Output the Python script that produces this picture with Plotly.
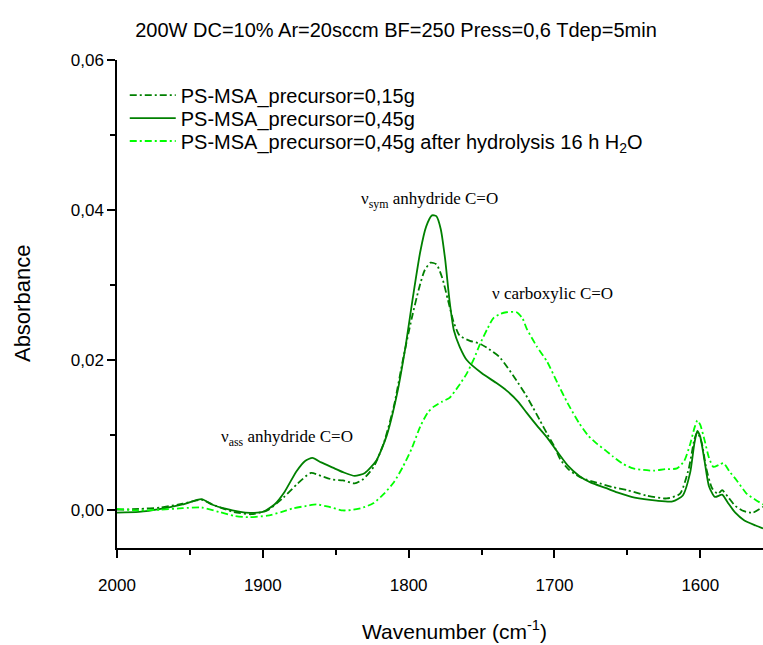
import plotly.graph_objects as go

# ---- data ----
wn_a = [2000, 1985, 1970, 1955, 1942, 1932, 1920, 1908, 1897, 1886, 1876, 1867, 1860, 1852, 1845,
        1837, 1831, 1824, 1817, 1810, 1804, 1798, 1793, 1789, 1785, 1781, 1777, 1773, 1769, 1765,
        1758, 1751, 1745, 1738, 1732, 1726, 1720, 1715, 1710, 1705, 1700, 1696, 1690, 1683, 1675,
        1669, 1660, 1650, 1637, 1623, 1614, 1608, 1604, 1602, 1599, 1596, 1592, 1588, 1585, 1581,
        1576, 1570, 1564, 1557]
abs_015 = [0.0001, 0.0002, 0.0004, 0.0009, 0.0014, 0.0006, -0.0002, -0.0005, 0.0000, 0.0017,
           0.0036, 0.0050, 0.0046, 0.0041, 0.0040, 0.0036, 0.0042, 0.0058, 0.0090, 0.0140,
           0.0200, 0.0255, 0.0295, 0.0320, 0.0330, 0.0328, 0.0310, 0.0280, 0.0250, 0.0233,
           0.0226, 0.0222, 0.0215, 0.0205, 0.0190, 0.0173, 0.0155, 0.0138, 0.0120, 0.0102,
           0.0085, 0.0068, 0.0054, 0.0045, 0.0039, 0.0036, 0.0031, 0.0027, 0.0020, 0.0016,
           0.0022, 0.0055, 0.0095, 0.0104, 0.0090, 0.0057, 0.0030, 0.0022, 0.0027, 0.0018,
           0.0006, -0.0001, -0.0003, 0.0005]

wn_b = [2000, 1985, 1970, 1955, 1942, 1935, 1925, 1912, 1900, 1892, 1885, 1877, 1871, 1866, 1860,
        1852, 1845, 1837, 1830, 1822, 1815, 1808, 1802, 1797, 1792, 1788, 1784, 1781, 1778, 1775,
        1772, 1769, 1765, 1760, 1750, 1740, 1733, 1725, 1719, 1712, 1705, 1698, 1691, 1683, 1675,
        1665, 1657, 1645, 1630, 1619, 1612, 1607, 1604, 1602, 1600, 1597, 1594, 1590, 1585, 1581,
        1576, 1570, 1562, 1557]
abs_045 = [-0.0003, -0.0002, 0.0002, 0.0008, 0.0015, 0.0008, 0.0002, -0.0003, -0.0002, 0.0008,
           0.0025, 0.0052, 0.0066, 0.0070, 0.0064, 0.0057, 0.0051, 0.0046, 0.0050, 0.0067,
           0.0100, 0.0155, 0.0220, 0.0285, 0.0345, 0.0378, 0.0393, 0.0392, 0.0375, 0.0335,
           0.0280, 0.0240, 0.0218, 0.0200, 0.0183, 0.0170, 0.0160, 0.0145, 0.0130, 0.0113,
           0.0097, 0.0078, 0.0060, 0.0046, 0.0037, 0.0030, 0.0024, 0.0017, 0.0013, 0.0012,
           0.0020, 0.0050, 0.0090, 0.0106, 0.0098, 0.0065, 0.0032, 0.0018, 0.0021, 0.0010,
           -0.0003, -0.0013, -0.0020, -0.0024]

wn_c = [2000, 1985, 1970, 1955, 1942, 1930, 1920, 1910, 1897, 1887, 1879, 1870, 1863, 1855, 1845,
        1838, 1831, 1824, 1817, 1810, 1804, 1798, 1792, 1787, 1783, 1777, 1772, 1766, 1760, 1755,
        1751, 1746, 1742, 1737, 1733, 1726, 1722, 1719, 1715, 1712, 1705, 1698, 1691, 1683, 1677,
        1671, 1665, 1660, 1653, 1646, 1639, 1632, 1624, 1616, 1611, 1607, 1604, 1602, 1600, 1597,
        1594, 1591, 1587, 1584, 1580, 1575, 1568, 1562, 1557]
abs_hyd = [0.0002, 0.0000, 0.0001, 0.0003, 0.0004, -0.0002, -0.0007, -0.0009, -0.0007, -0.0002,
           0.0003, 0.0006, 0.0008, 0.0005, 0.0000, 0.0001, 0.0004, 0.0010, 0.0022, 0.0038,
           0.0058, 0.0082, 0.0112, 0.0130, 0.0138, 0.0145, 0.0150, 0.0165, 0.0183, 0.0203,
           0.0222, 0.0242, 0.0256, 0.0262, 0.0264, 0.0264, 0.0256, 0.0242, 0.0228, 0.0218,
           0.0198, 0.0170, 0.0143, 0.0116, 0.0100, 0.0089, 0.0080, 0.0072, 0.0062, 0.0056,
           0.0054, 0.0053, 0.0055, 0.0056, 0.0066, 0.0088, 0.0110, 0.0120, 0.0114, 0.0093,
           0.0070, 0.0058, 0.0061, 0.0063, 0.0052, 0.0040, 0.0022, 0.0014, 0.0008]

series_names = ["PS-MSA_precursor=0,15g", "PS-MSA_precursor=0,45g",
                "PS-MSA_precursor=0,45g after hydrolysis 16 h H<sub>2</sub>O"]

x_tickvals = [2000, 1900, 1800, 1700, 1600]
x_ticktext = ["2000", "1900", "1800", "1700", "1600"]
y_tickvals = [0.0, 0.02, 0.04, 0.06]
y_ticktext = ["0,00", "0,02", "0,04", "0,06"]

title_text = "200W DC=10% Ar=20sccm BF=250 Press=0,6 Tdep=5min"

DARK = "#008000"
LIGHT = "#00ff00"
FONT = "Arial, Liberation Sans, sans-serif"
SERIF = "Times New Roman, Liberation Serif, serif"
DASHDOT = "7px,3px,2px,3px"

fig = go.Figure()
fig.add_trace(go.Scatter(x=wn_a, y=abs_015, mode="lines", name=series_names[0], legend="legend",
                         line=dict(color=DARK, width=1.8, dash=DASHDOT, shape="spline", smoothing=0.6)))
fig.add_trace(go.Scatter(x=wn_b, y=abs_045, mode="lines", name=series_names[1], legend="legend2",
                         line=dict(color=DARK, width=1.8, shape="spline", smoothing=0.6)))
fig.add_trace(go.Scatter(x=wn_c, y=abs_hyd, mode="lines", name=series_names[2], legend="legend3",
                         line=dict(color=LIGHT, width=1.8, dash=DASHDOT, shape="spline", smoothing=0.6)))

annots = [
    dict(x=1834, y=0.0413, text="ν<sub>sym</sub> anhydride C=O"),
    dict(x=1744, y=0.0289, text="ν carboxylic C=O"),
    dict(x=1930, y=0.0097, text="ν<sub>ass</sub> anhydride C=O"),
]
for a in annots:
    fig.add_annotation(x=a["x"], y=a["y"], xref="x", yref="y", text=a["text"], showarrow=False,
                       xanchor="left", yanchor="middle", font=dict(family=SERIF, size=17, color="black"))

fig.add_annotation(x=0.522, y=-0.168, xref="paper", yref="paper", text="Wavenumber (cm<sup>-1</sup>)",
                   showarrow=False, xanchor="center", yanchor="middle",
                   font=dict(family=FONT, size=21, color="black"))
fig.add_annotation(x=-0.147, y=0.5, xref="paper", yref="paper", text="Absorbance", textangle=-90,
                   showarrow=False, xanchor="center", yanchor="middle",
                   font=dict(family=FONT, size=22, color="black"))

leg_common = dict(x=0.012, xanchor="left", yanchor="middle", bgcolor="rgba(0,0,0,0)",
                  itemwidth=46, font=dict(family=FONT, size=20, color="black"))

fig.update_layout(
    width=763, height=645,
    margin=dict(l=117, r=0, t=60, b=97),
    paper_bgcolor="white", plot_bgcolor="white",
    title=dict(text=title_text, x=0.519, xanchor="center", y=0.953, yanchor="middle",
               font=dict(family=FONT, size=20, color="black")),
    font=dict(family=FONT, size=17, color="black"),
    showlegend=True,
    legend=dict(y=0.928, **leg_common),
    legend2=dict(y=0.881, **leg_common),
    legend3=dict(y=0.834, **leg_common),
    xaxis=dict(range=[2000, 1557], autorange=False, showgrid=False, zeroline=False,
               showline=True, linecolor="black", linewidth=1.5, mirror=False,
               ticks="outside", ticklen=8, tickwidth=1.5, tickcolor="black",
               ticklabelstandoff=13,
               tickvals=x_tickvals, ticktext=x_ticktext, tickfont=dict(size=17),
               minor=dict(ticks="outside", ticklen=5, tickwidth=1.5, tickcolor="black",
                          tickvals=[1950, 1850, 1750, 1650], showgrid=False)),
    yaxis=dict(range=[-0.005, 0.06], autorange=False, showgrid=False, zeroline=False,
               showline=True, linecolor="black", linewidth=1.5, mirror=False,
               ticks="outside", ticklen=8, tickwidth=1.5, tickcolor="black",
               tickvals=y_tickvals, ticktext=y_ticktext, tickfont=dict(size=17),
               minor=dict(ticks="outside", ticklen=5, tickwidth=1.5, tickcolor="black",
                          tickvals=[0.01, 0.03, 0.05], showgrid=False)),
)

fig.write_html("out.html", config={"displayModeBar": False},
               post_script="document.body.style.margin='0';document.body.style.padding='0';document.body.style.overflow='hidden';")
